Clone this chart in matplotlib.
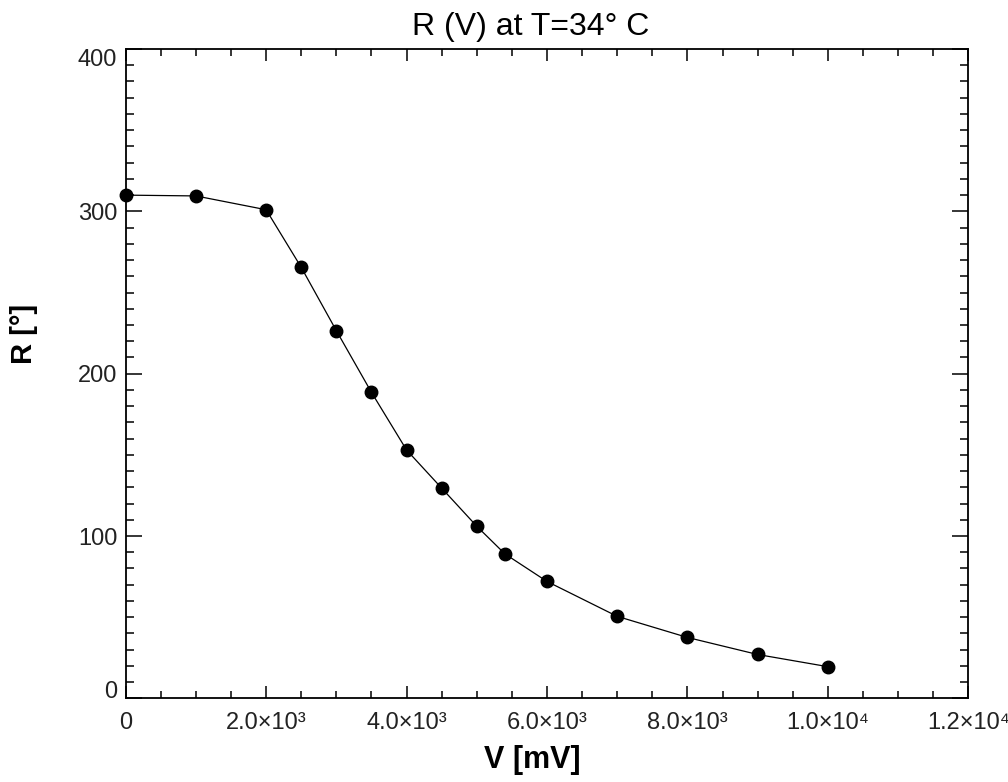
import numpy as np
import matplotlib
matplotlib.use("Agg")
import matplotlib.pyplot as plt
from matplotlib.ticker import MultipleLocator

# data
V = [0, 1000, 2000, 2500, 3000, 3500, 4000, 4500, 5000, 5400, 6000, 7000, 8000, 9000, 10000]
R = [310, 309.5, 301, 265.5, 226.5, 188.5, 153, 129.5, 106, 89, 72, 50.5, 37.5, 27, 19.5]

xticks = [0, 2000, 4000, 6000, 8000, 10000, 12000]
xticklabels = ["0", "2.0×10³", "4.0×10³", "6.0×10³", "8.0×10³", "1.0×10⁴", "1.2×10⁴"]
yticks = [0, 100, 200, 300, 400]
yticklabels = ["0", "100", "200", "300", "400"]

fam = ["Liberation Sans", "DejaVu Sans"]
plt.rcParams["font.family"] = fam

fig = plt.figure(figsize=(10.08, 7.82), dpi=100)
ax = fig.add_axes([0.1247, 0.107, 0.8359, 0.8303])

ax.plot(V, R, color="k", lw=0.9, marker="o", ms=9, mfc="k", mec="k", clip_on=False)

ax.set_xlim(0, 12000)
ax.set_ylim(0, 400)
ax.set_xticks(xticks)
ax.set_xticklabels(xticklabels)
ax.set_yticks(yticks)
ax.set_yticklabels(yticklabels)
ax.xaxis.set_minor_locator(MultipleLocator(500))
ax.yaxis.set_minor_locator(MultipleLocator(10))

ax.tick_params(axis="both", which="both", direction="in", top=True, right=True,
               color="k", width=1.1, labelsize=17, labelcolor="#222222")
ax.tick_params(axis="x", which="major", length=8.6, pad=9.5)
ax.tick_params(axis="x", which="minor", length=5)
ax.tick_params(axis="y", which="major", length=11.5, pad=6)
ax.tick_params(axis="y", which="minor", length=5.8)

# end labels sit inside the axis range
ylabs = ax.get_yticklabels()
ylabs[0].set_va("baseline")
ylabs[-1].set_va("top")

for s in ax.spines.values():
    s.set_linewidth(1.3)

fig.text(0.526, 0.955, "R (V) at T=34° C", ha="center", va="baseline", fontsize=23)
fig.text(0.528, 0.018, "V [mV]", ha="center", va="baseline", fontsize=22, fontweight="bold")
fig.text(0.024, 0.573, "R [°]", ha="center", va="center", rotation=90, fontsize=21, fontweight="bold")

fig.savefig("out.png", dpi=100)
